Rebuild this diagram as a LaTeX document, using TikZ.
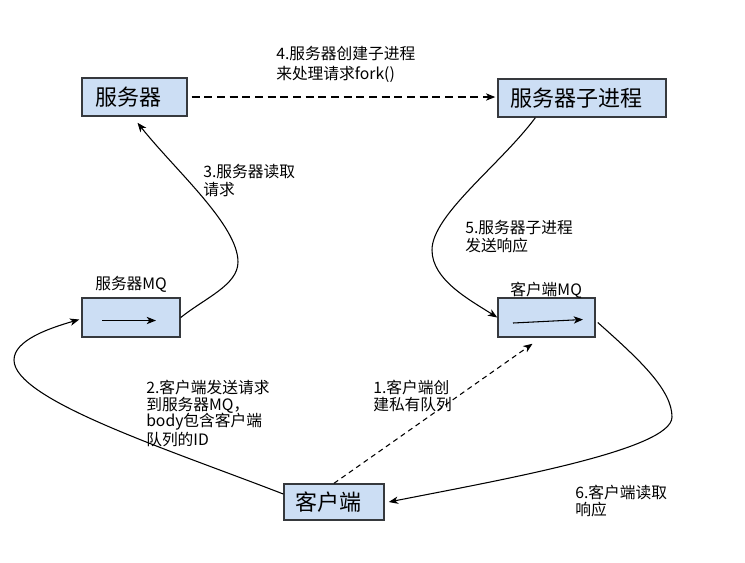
\documentclass[tikz,border=0pt]{standalone}
\usepackage{fontspec}
\setmainfont{Noto Sans CJK SC}
\usetikzlibrary{arrows.meta}
\definecolor{boxfill}{RGB}{204,222,244}
\definecolor{boxdraw}{RGB}{54,57,61}
\begin{document}
\begin{tikzpicture}[x=0.75pt,y=-0.75pt,
  box/.style={draw=boxdraw,fill=boxfill,line width=1.1pt,inner sep=0pt,font=\fontsize{16.5}{18}\selectfont},
  boxtext/.style={execute at begin node={\hspace*{-8.5pt}}},
  lbl/.style={anchor=north west,inner sep=0pt,align=left,font=\fontsize{11.8}{13.5}\selectfont},
  conn/.style={line width=0.8pt,-{Stealth[length=7pt,width=5.5pt,inset=2pt]}},
  dash4/.style={dash pattern=on 6pt off 3.5pt},
  dash1/.style={dash pattern=on 3.8pt off 3pt}
]
\useasboundingbox (0,0) rectangle (745,562);
\fill[white] (0,0) rectangle (745,562);
% boxes
\node[box,boxtext,minimum width=78.75pt,minimum height=28.5pt] (srv) at (134.5,97) {服务器};
\node[box,boxtext,minimum width=126pt,minimum height=28.5pt] (child) at (582,98) {服务器子进程};
\node[box,minimum width=73.5pt,minimum height=29.25pt] (smq) at (131,317.5) {};
\node[box,minimum width=72.75pt,minimum height=29.25pt] (cmq) at (546.5,317.5) {};
\node[box,boxtext,minimum width=75pt,minimum height=27pt] (cli) at (334,502) {客户端};
% inner arrows
\coordinate (s1) at (102,320.5);
\coordinate (s2) at (156,320.5);
\coordinate (c1) at (513,323);
\coordinate (c2) at (583,319.5);
\draw[conn] (s1) -- (s2);
\draw[conn] (c1) -- (c2);
% labels
\node[lbl,anchor=west] (smqlbl) at (95,284) {服务器MQ};
\node[lbl,anchor=west] (cmqlbl) at (510,290) {客户端MQ};
\node[lbl,font=\fontsize{11.8}{15}\selectfont] (l4) at (276,46) {4.服务器创建子进程\\来处理请求fork()};
\node[lbl] (l3) at (203,164) {3.服务器读取\\请求};
\node[lbl] (l5) at (465,220) {5.服务器子进程\\发送响应};
\node[lbl,font=\fontsize{11.8}{12.5}\selectfont] (l2) at (146,380) {2.客户端发送请求\\到服务器MQ，\\body包含客户端\\队列的ID};
\node[lbl,font=\fontsize{11.8}{12.5}\selectfont] (l1) at (373,380) {1.客户端创\\建私有队列};
\node[lbl,font=\fontsize{11.8}{12.5}\selectfont] (l6) at (575,485) {6.客户端读取\\响应};
% connectors
\draw[conn,dash4] ([xshift=3]srv.east) -- ([shift={(-2,-1)}]child.west);
\draw[conn,dash1] (cli.north) -- ([shift={(-14,6)}]cmq.south);
\draw[conn] (smq.east) .. controls (205,298) and (238,285) .. (238,262)
  .. controls (238,225) and (175,170) .. ([shift={(3,6)}]srv.south);
\draw[conn] ([xshift=-35]child.south) .. controls (500,165) and (432,215) .. (432,250)
  .. controls (432,280) and (470,300) .. (cmq.west);
\draw[conn] ([yshift=6]cli.west) .. controls (170,450) and (14,400) .. (14,360)
  .. controls (14,340) and (50,328) .. ([shift={(-2,2)}]smq.west);
\draw[conn] ([shift={(2,5)}]cmq.east) .. controls (640,360) and (672,390) .. (672,417)
  .. controls (672,450) and (500,480) .. ([xshift=3]cli.east);
\end{tikzpicture}
\end{document}
